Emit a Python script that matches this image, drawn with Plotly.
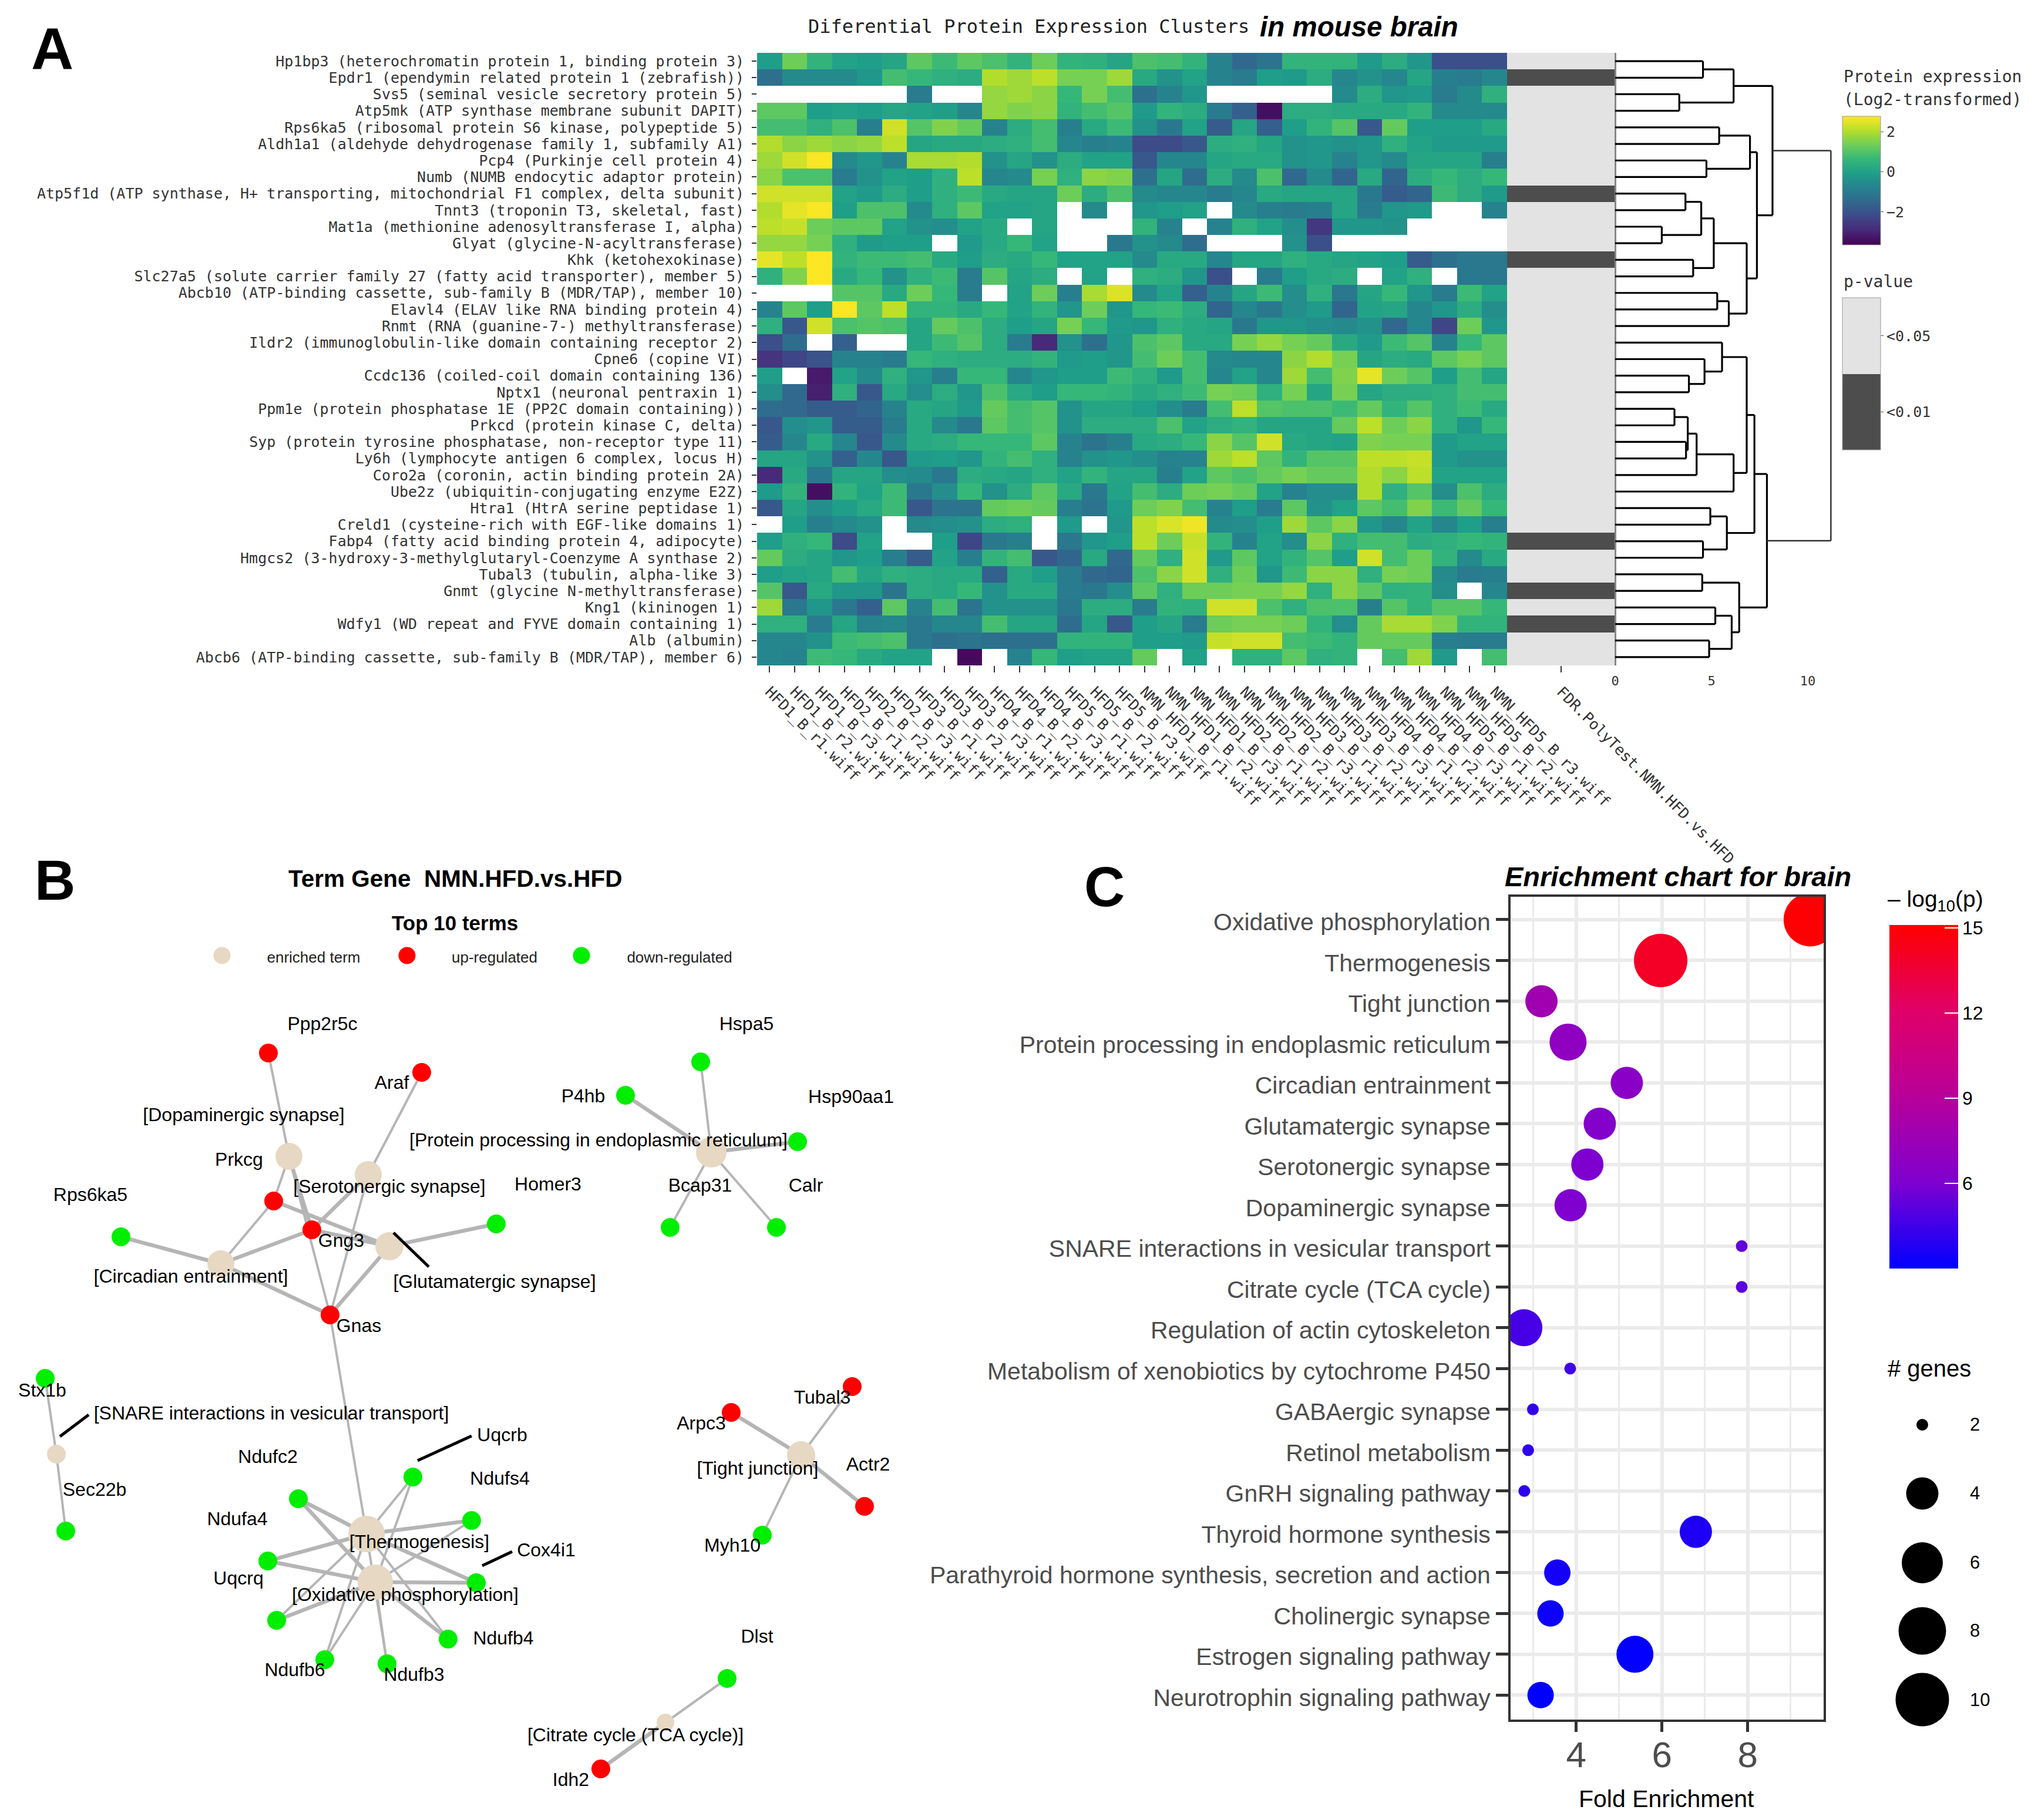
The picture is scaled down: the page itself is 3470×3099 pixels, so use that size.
import plotly.graph_objects as go

W, H = 3470, 3099
MONO = "DejaVu Sans Mono"
SANS = "Liberation Sans"
N = None

# ---------------- Panel A data ----------------
proteins = [
 "Hp1bp3 (heterochromatin protein 1, binding protein 3)","Epdr1 (ependymin related protein 1 (zebrafish))",
 "Svs5 (seminal vesicle secretory protein 5)","Atp5mk (ATP synthase membrane subunit DAPIT)",
 "Rps6ka5 (ribosomal protein S6 kinase, polypeptide 5)","Aldh1a1 (aldehyde dehydrogenase family 1, subfamily A1)",
 "Pcp4 (Purkinje cell protein 4)","Numb (NUMB endocytic adaptor protein)",
 "Atp5f1d (ATP synthase, H+ transporting, mitochondrial F1 complex, delta subunit)","Tnnt3 (troponin T3, skeletal, fast)",
 "Mat1a (methionine adenosyltransferase I, alpha)","Glyat (glycine-N-acyltransferase)","Khk (ketohexokinase)",
 "Slc27a5 (solute carrier family 27 (fatty acid transporter), member 5)","Abcb10 (ATP-binding cassette, sub-family B (MDR/TAP), member 10)",
 "Elavl4 (ELAV like RNA binding protein 4)","Rnmt (RNA (guanine-7-) methyltransferase)","Ildr2 (immunoglobulin-like domain containing receptor 2)",
 "Cpne6 (copine VI)","Ccdc136 (coiled-coil domain containing 136)","Nptx1 (neuronal pentraxin 1)",
 "Ppm1e (protein phosphatase 1E (PP2C domain containing))","Prkcd (protein kinase C, delta)","Syp (protein tyrosine phosphatase, non-receptor type 11)",
 "Ly6h (lymphocyte antigen 6 complex, locus H)","Coro2a (coronin, actin binding protein 2A)","Ube2z (ubiquitin-conjugating enzyme E2Z)",
 "Htra1 (HtrA serine peptidase 1)","Creld1 (cysteine-rich with EGF-like domains 1)","Fabp4 (fatty acid binding protein 4, adipocyte)",
 "Hmgcs2 (3-hydroxy-3-methylglutaryl-Coenzyme A synthase 2)","Tubal3 (tubulin, alpha-like 3)","Gnmt (glycine N-methyltransferase)",
 "Kng1 (kininogen 1)","Wdfy1 (WD repeat and FYVE domain containing 1)","Alb (albumin)","Abcb6 (ATP-binding cassette, sub-family B (MDR/TAP), member 6)"]

samples = ["HFD1_B_r1.wiff","HFD1_B_r2.wiff","HFD1_B_r3.wiff","HFD2_B_r1.wiff","HFD2_B_r2.wiff","HFD2_B_r3.wiff",
 "HFD3_B_r1.wiff","HFD3_B_r2.wiff","HFD3_B_r3.wiff","HFD4_B_r1.wiff","HFD4_B_r2.wiff","HFD4_B_r3.wiff",
 "HFD5_B_r1.wiff","HFD5_B_r2.wiff","HFD5_B_r3.wiff","NMN_HFD1_B_r1.wiff","NMN_HFD1_B_r2.wiff","NMN_HFD1_B_r3.wiff",
 "NMN_HFD2_B_r1.wiff","NMN_HFD2_B_r2.wiff","NMN_HFD2_B_r3.wiff","NMN_HFD3_B_r1.wiff","NMN_HFD3_B_r2.wiff","NMN_HFD3_B_r3.wiff",
 "NMN_HFD4_B_r1.wiff","NMN_HFD4_B_r2.wiff","NMN_HFD4_B_r3.wiff","NMN_HFD5_B_r1.wiff","NMN_HFD5_B_r2.wiff","NMN_HFD5_B_r3.wiff"]

expression_read = [
[-.2,1.2,.4,-.1,-.2,0,1.0,.6,1.0,.8,.4,1.2,.4,.3,0,.8,.7,.4,-.9,-1.6,-1.3,.4,.4,.4,-.3,.2,-.4,-2.2,-2.2,-2.2],
[-1.4,-.7,-.7,-.7,-.4,.7,.5,.3,.2,1.9,1.7,2.0,1.3,1.3,1.7,.1,-.5,-.1,-.9,-1.1,-.2,-.3,.2,-.8,-.5,-.8,0,-1.0,-1.1,-.8],
[N,N,N,N,N,N,-1.1,N,N,1.6,1.7,1.5,.5,1.3,.7,-1.4,-.9,-.4,N,N,N,N,N,-.7,.2,-.4,-.3,-1.1,-.7,.3],
[1.0,1.0,-.2,-.1,-.2,0,-.1,-.2,-.8,1.6,1.4,1.5,.4,.7,.9,-.3,.4,.2,-1.1,-1.8,-3.5,.2,.2,.1,.1,.1,.4,-.7,-.7,-.7],
[.7,.7,.3,.8,-1.0,2.2,.9,1.4,1.1,-.9,.2,.7,-1.0,.1,.6,-.5,-1.2,-.1,-1.9,0,-1.8,-.2,.4,.9,-2.0,1.1,-.2,-.2,-.2,.1],
[1.9,1.5,1.7,1.5,1.6,2.0,0,.1,.1,.2,.3,.7,-.8,-1.0,-.9,-2.3,-2.3,-2.0,.2,.3,0,-.5,-.4,-.5,-.4,.3,-.1,-.3,-.3,-.3],
[1.7,2.2,2.6,-.7,-.4,-.9,1.8,1.8,1.9,-.5,0,-.5,.2,-.1,-.1,-2.0,-.8,-.8,0,.1,.1,-.5,-.4,-.9,-.4,-.7,0,0,0,-1.0],
[1.5,.8,.8,-1.1,-.5,-.1,-.2,.3,2.0,-.8,-.7,1.3,.3,1.5,1.4,-1.4,0,-1.5,.2,-.7,.8,-1.6,-.7,-1.7,.1,-1.7,.2,.5,.2,.5],
[2.2,2.2,2.2,-.1,-.3,.2,-.2,.3,.6,.1,0,0,1.2,.2,.8,-.7,-.8,-.8,-1.1,-.8,.1,0,0,0,-1.2,-1.9,-1.7,.6,.2,-.3],
[1.9,2.4,2.6,-.2,.8,.8,-.7,.3,1.0,-.1,-.1,0,N,-.7,N,-.4,-.2,-.1,N,-.7,-1.0,-1.1,-1.0,0,-1.1,-.4,-.3,N,N,-.9],
[2.0,2.1,1.2,1.0,1.0,-.1,-.5,-.6,-.1,.1,N,0,N,N,N,.4,-.9,N,-.9,.3,-.1,-.6,-2.7,-.4,-.4,-.5,N,N,N,N],
[1.6,1.6,1.3,.3,-.3,-.2,-.2,N,-.3,.1,.5,-.1,N,N,-1.2,-.5,-.7,-1.5,N,N,N,-.5,-2.2,N,N,N,N,N,N,N],
[2.4,2.0,2.7,.4,.6,.6,.7,.1,-.2,.2,.1,.5,-.1,-.1,-.1,-.7,.1,.1,-.8,0,0,.3,.1,0,-.1,-.2,-1.9,-1.4,-1.2,-1.2],
[.3,1.4,2.75,.1,.5,-.5,.3,.6,-1.1,.9,0,.2,N,-.1,N,.3,.2,-.4,-2.2,N,-1.1,-.2,.1,.2,N,-.1,.3,N,-1.2,-1.2],
[N,N,N,.9,.9,.1,1.2,.5,-1.1,N,-.1,1.2,-1.0,1.8,2.3,-.7,-.1,-1.8,-.9,0,.6,-.6,.3,-1.2,0,.5,-.4,-1.1,.6,-.1],
[-.9,1.0,-.2,2.6,1.0,2.0,.4,.4,.1,.5,-.1,.4,-.4,1.2,-.4,.5,.6,.2,-1.7,-.8,-1.2,-.6,-.3,-1.7,-.1,0,-.8,-.4,.2,-.6],
[.3,-2.0,2.2,.8,.9,.8,0,1.1,.8,.2,-.2,0,1.3,.5,-.3,-.4,.3,.1,0,-1.2,-.4,-.4,-.6,-.7,-.5,-1.6,-.8,-2.4,1.2,-.4],
[-2.2,-1.5,N,-1.8,N,N,0,.6,.9,.2,-1.1,-3.0,-.5,-1.4,-.4,.8,1.0,.1,.1,1.3,1.6,1.3,1.1,.1,-.3,.6,.9,-.9,.5,1.0],
[-2.8,-2.4,-2.1,-.9,-.9,-1.1,.5,.3,.2,.2,.2,.4,-.3,-.2,-.4,.7,1.2,.7,-.7,-.8,-.8,1.5,1.9,1.3,0,.2,.1,1.0,1.3,1.0],
[-.2,N,-3.3,-.1,-.7,.3,-.4,-1.0,.5,.5,-.8,-.4,-.2,-.2,.6,.3,-.3,.7,-.8,-.1,-.8,1.7,.7,1.4,2.4,1.2,.9,-.2,.7,0],
[-.6,-1.6,-3.2,.3,-2.0,.1,-.6,.2,-.4,.8,.1,-.2,.5,.5,.4,.1,.3,.6,1.3,1.2,.3,1.3,0,1.3,0,.2,.2,.3,.7,.7],
[-1.5,-1.6,-1.9,-1.9,-1.7,-.9,.1,0,-.3,1.1,.7,.9,-.5,0,0,-.2,-.6,-1.1,.7,2.0,.9,.8,.8,.6,1.1,.4,.9,.3,.6,.1],
[-2.0,-.6,-.4,-1.9,-1.9,-1.1,.1,-.7,-1.2,1.0,.7,.9,-.5,.2,.2,.2,.8,-.1,.2,.4,0,0,0,1.1,2.0,1.2,1.5,.3,-.4,.5],
[-1.9,-.8,.1,-.8,-2.0,-.7,.1,.2,.5,.5,.5,1.0,-.9,-1.3,-1.0,.1,.2,.5,1.5,.9,2.2,.1,0,-.1,1.4,1.3,1.3,-.3,-.1,-.1],
[0,0,-.5,-1.8,-.8,-2.0,-.3,-.2,-.4,.4,.7,.3,-.9,-.5,-.4,-.6,-.9,-.9,1.7,2.0,1.0,.4,.9,.9,2.0,2.0,2.1,-.3,-.5,-.5],
[-3.0,.1,-1.2,0,0,-.6,-.7,-1.2,.2,.1,0,.3,-.1,.4,0,0,-1.0,-.1,1.0,.8,1.1,1.3,1.1,1.1,1.9,1.5,2.0,-.1,-.1,-.1],
[-.3,.4,-3.5,.4,-.1,.6,-1.2,-.6,.5,-.5,.2,1.0,.1,-1.2,-.1,.7,.2,1.2,1.3,1.1,-.1,-.9,-.6,-.6,1.9,.3,.9,-.6,.8,.2],
[-2.0,0,-.6,-.2,.1,.6,-2.0,-1.3,-1.3,1.1,1.2,1.1,-1.0,-1.3,-.3,1.2,1.4,.7,-.9,-.2,-1.1,1.0,-.5,-.1,1.0,.7,1.4,.6,1.1,.5],
[N,-.2,-1.0,-.7,-.5,N,-.7,-.6,-.5,.2,.3,N,-.3,N,-.4,2.0,2.3,2.5,-.7,-.6,-.2,1.7,1.0,1.5,-.4,-.8,-.1,-.8,-.2,-1.0],
[-.2,.3,.5,-2.3,-.1,N,N,-.2,-2.4,-1.2,-1.0,N,-1.2,-.4,-.2,2.0,1.2,2.1,.4,-.9,-.1,-.6,1.5,.3,.7,.7,.2,.3,.5,.4],
[1.1,.2,0,-.4,-.2,-1.0,-1.9,-.1,-1.0,.4,.7,-2.0,-1.7,.1,-1.6,1.1,.3,2.2,-.3,1.0,-.1,.4,.9,-.2,2.2,.7,1.2,.4,-.7,.1],
[-.2,-.1,0,.7,0,.3,.2,.1,.1,-1.8,.1,-.2,-1.1,-1.6,-1.7,.8,1.5,2.2,.3,1.2,-.4,.6,1.5,1.5,.3,1.3,1.2,-.7,-1.1,-1.0],
[.9,-2.0,.1,-.4,-.4,-1.3,.2,.1,.5,-.5,.1,.1,-1.1,-1.2,-.6,1.0,.3,1.2,1.2,1.3,1.3,1.6,.3,1.5,1.0,.3,.4,-.6,N,-.8],
[1.7,-1.2,-.4,-1.2,-1.8,1.0,-.9,.7,-1.3,-.5,-.5,-.5,-1.2,.2,.2,-1.1,.4,.3,2.2,2.2,.8,.3,.8,.8,-1.0,.9,.4,.9,.9,.5],
[.3,.3,-1.1,0,-.9,-.8,-1.2,-.8,-.8,.7,0,0,-1.5,0,-2.0,-.2,0,-1.1,1.2,1.3,1.3,1.2,.4,-.6,1.1,1.8,1.8,1.4,.4,.4],
[-.8,-.8,-.5,.6,.7,.8,-1.2,-1.4,-1.3,-1.4,-1.4,-1.4,.4,.4,.4,-.2,-.2,-.3,2.1,2.2,2.2,.7,.6,.4,1.1,1.1,1.1,-1.0,-1.1,-1.1],
[-.8,-.9,.6,.5,.1,-.1,-.1,N,-3.6,N,-.9,.5,-.2,-.1,-.1,1.1,N,-.1,N,.3,.3,1.0,.3,.4,N,.7,1.7,-.3,N,.7],
]
# my colour readings ran slightly dark against the reference's colour bar
read_correction = 0.12
expression = [[None if v is None else v+read_correction for v in row] for row in expression_read]
pvalue_class = [1,0,1,1,1,1,1,1,0,1,1,1,0,1,1,1,1,1,1,1,1,1,1,1,1,1,1,1,1,0,1,1,0,1,0,1,1]
pvalue_column = ["FDR.PolyTest.NMN.HFD.vs.HFD"]

# dendrogram: (child a, child b, height); leaf = row number, node 37+i = i-th merge
merges = [
 (0,1,4.56),(2,3,3.33),(37,38,6.15),(4,5,5.4),(6,7,4.74),(40,41,7.0),(8,9,3.65),(10,11,2.42),(43,44,4.47),
 (12,13,4.05),(45,46,5.12),(14,15,5.3),(48,16,5.9),(47,49,6.83),(42,50,7.36),(39,51,8.17),
 (19,20,3.83),(18,53,4.64),(17,54,5.55),(21,22,3.08),(23,24,3.68),(56,57,3.77),(58,25,4.23),(59,26,6.15),
 (55,60,6.83),(27,28,4.94),(29,30,4.56),(62,63,5.8),(61,64,7.23),(31,32,4.52),(33,34,5.2),(35,36,4.88),
 (67,68,6.05),(66,69,6.44),(65,70,7.88),(52,71,11.2)]

# ---------------- Panel B data ----------------
term_names = ["[Dopaminergic synapse]","[Serotonergic synapse]","[Glutamatergic synapse]","[Circadian entrainment]",
 "[Protein processing in endoplasmic reticulum]","[SNARE interactions in vesicular transport]","[Thermogenesis]",
 "[Oxidative phosphorylation]","[Tight junction]","[Citrate cycle (TCA cycle)]"]
term_x = [492,627,663,376,1211,96,624,639,1364,1133]
term_y = [1969,2000,2122,2152,1962,2476,2612,2694,2478,2933]
term_label_x = [415,663,842,325,1019,462,714,690,1290,1082]
term_label_y = [1901,2023,2185,2176,1944,2409,2628,2718,2503,2957]
term_sizes = [46,46,48,46,52,32,62,60,48,30]
up_names = ["Ppp2r5c","Araf","Prkcg","Gng3","Gnas","Tubal3","Arpc3","Actr2","Idh2"]
up_x = [457,718,466,531,562,1451,1245,1472,1023]
up_y = [1793,1826,2045,2094,2239,2361,2405,2565,3012]
up_label_x = [549,667,407,581,611,1400,1194,1478,972]
up_label_y = [1746,1846,1977,2115,2260,2382,2426,2496,3033]
down_names = ["Rps6ka5","Homer3","Hspa5","P4hb","Hsp90aa1","Bcap31","Calr","Stx1b","Sec22b","Uqcrb","Ndufc2","Ndufs4","Ndufa4",
 "Cox4i1","Uqcrq","Ndufb4","Ndufb6","Ndufb3","Myh10","Dlst"]
down_x = [206,845,1193,1065,1358,1141,1322,77,112,703,508,803,456,811,471,763,553,659,1298,1238]
down_y = [2106,2084,1808,1865,1944,2090,2090,2347,2607,2515,2552,2589,2658,2695,2759,2791,2826,2833,2614,2858]
down_label_x = [154,933,1271,993,1449,1192,1372,72,161,855,456,851,404,930,406,857,502,705,1247,1289]
down_label_y = [2037,2019,1746,1869,1870,2021,2021,2370,2539,2446,2483,2520,2589,2642,2690,2792,2846,2854,2634,2789]

edges_thick = {
 "[Dopaminergic synapse]":["Gng3"],
 "[Serotonergic synapse]":["Gng3"],
 "[Glutamatergic synapse]":["Prkcg","Gng3","Homer3","Gnas"],
 "[Circadian entrainment]":["Rps6ka5","Gng3","Gnas"],
 "[Protein processing in endoplasmic reticulum]":["P4hb","Hsp90aa1"],
 "[Thermogenesis]":["Ndufc2","Ndufs4","Ndufa4","Cox4i1"],
 "[Oxidative phosphorylation]":["Ndufc2","Ndufa4","Cox4i1","Uqcrq","Ndufb4"],
 "[Tight junction]":["Arpc3","Actr2"],
 "[Citrate cycle (TCA cycle)]":["Idh2"],
}
edges_thin = {
 "[Dopaminergic synapse]":["Ppp2r5c","Prkcg","Gnas"],
 "[Serotonergic synapse]":["Araf","Gnas"],
 "[Circadian entrainment]":["Prkcg"],
 "[Protein processing in endoplasmic reticulum]":["Hspa5","Bcap31","Calr"],
 "[SNARE interactions in vesicular transport]":["Stx1b","Sec22b"],
 "[Thermogenesis]":["Gnas","Uqcrb","Uqcrq","Ndufb4","Ndufb6","Ndufb3"],
 "[Oxidative phosphorylation]":["Uqcrb","Ndufs4","Ndufb6","Ndufb3"],
 "[Tight junction]":["Tubal3","Myh10"],
 "[Citrate cycle (TCA cycle)]":["Dlst"],
}
callouts = [((670,2099),(730,2157)),((102,2446),(151,2409)),((711,2487),(803,2445)),((821,2666),(872,2642))]

# ---------------- Panel C data ----------------
pathways = ["Oxidative phosphorylation","Thermogenesis","Tight junction","Protein processing in endoplasmic reticulum",
 "Circadian entrainment","Glutamatergic synapse","Serotonergic synapse","Dopaminergic synapse",
 "SNARE interactions in vesicular transport","Citrate cycle (TCA cycle)","Regulation of actin cytoskeleton",
 "Metabolism of xenobiotics by cytochrome P450","GABAergic synapse","Retinol metabolism","GnRH signaling pathway",
 "Thyroid hormone synthesis","Parathyroid hormone synthesis, secretion and action","Cholinergic synapse",
 "Estrogen signaling pathway","Neurotrophin signaling pathway"]
fold_enrichment = [9.46,5.97,3.19,3.81,5.18,4.55,4.26,3.87,7.86,7.86,2.78,3.86,2.99,2.88,2.79,6.79,3.56,3.40,5.37,3.17]
neg_log_p = [15,14.0,7.8,6.9,6.6,6.3,6.0,6.1,5.3,5.2,4.7,4.5,4.2,4.1,4.0,3.7,3.5,3.3,3.1,3.0]
n_genes = [10,10,4,5,4,4,4,4,2,2,5,2,2,2,2,4,3,3,5,3]
size_legend_genes = [2,4,6,8,10]

# ---------------- helpers / styles ----------------
def xd(a,b): return [a/W, b/W]
def yd(top,bottom): return [1-bottom/H, 1-top/H]
gene_px = {2:20,3:45,4:55,5:63,6:70,8:81,10:91}
TERM_C, UP_C, DOWN_C = "#e6d8c3", "#ff0000", "#00ee00"
ENRICH_SCALE = [[0,"#0000ff"],[.25,"#7f00d0"],[.5,"#b8009a"],[.75,"#e00068"],[1,"#ff0000"]]

H_L,H_R,H_T,H_B = 1289,2566,90,1133
P_R, D_R = 2750, 3130
C_L,C_R,C_T,C_B = 2572,3105,1527,2928

fig = go.Figure()
rows_idx = list(range(len(proteins)))

fig.add_trace(go.Heatmap(z=expression, x=samples, y=proteins, colorscale="Viridis", zmin=-3.64, zmax=2.76,
    xaxis="x", yaxis="y", hoverongaps=False,
    colorbar=dict(x=3137/W, xanchor="left", y=1-198/H, yanchor="top", lenmode="pixels", len=219,
        thicknessmode="pixels", thickness=65, xpad=0, ypad=0, outlinecolor="#999999", outlinewidth=1,
        tickvals=[-2,0,2], ticks="outside", ticklen=5, tickcolor="#555555",
        tickfont=dict(family=MONO,size=25,color="#333333"))))

fig.add_trace(go.Heatmap(z=[[v] for v in pvalue_class], x=pvalue_column, y=proteins,
    colorscale=[[0,"#4d4d4d"],[.5,"#4d4d4d"],[.5,"#e3e3e3"],[1,"#e3e3e3"]], zmin=0, zmax=1,
    xaxis="x2", yaxis="y2",
    colorbar=dict(x=3137/W, xanchor="left", y=1-507/H, yanchor="top", lenmode="pixels", len=259,
        thicknessmode="pixels", thickness=65, xpad=0, ypad=0, outlinecolor="#999999", outlinewidth=1,
        tickvals=[.25,.75], ticktext=["<0.01","<0.05"], ticks="outside", ticklen=5, tickcolor="#555555",
        tickfont=dict(family=MONO,size=25,color="#333333"))))

# dendrogram
pos = {i:float(i) for i in rows_idx}
hgt = {i:0.0 for i in rows_idx}
dx, dy, rx, ry = [], [], [], []
for k,(a,b,h) in enumerate(merges):
    nid = len(proteins)+k
    lx = rx if k==len(merges)-1 else dx
    ly = ry if k==len(merges)-1 else dy
    lx += [hgt[a],h,N,h,h,N,hgt[b],h,N]
    ly += [pos[a],pos[a],N,pos[a],pos[b],N,pos[b],pos[b],N]
    pos[nid] = (pos[a]+pos[b])/2
    hgt[nid] = h
fig.add_trace(go.Scatter(x=dx,y=dy,mode="lines",line=dict(color="#000000",width=3.2),xaxis="x3",yaxis="y3",hoverinfo="skip",showlegend=False))
fig.add_trace(go.Scatter(x=rx,y=ry,mode="lines",line=dict(color="#333333",width=2.5),xaxis="x3",yaxis="y3",hoverinfo="skip",showlegend=False))

# network
nx = dict(zip(term_names+up_names+down_names, term_x+up_x+down_x))
ny = dict(zip(term_names+up_names+down_names, term_y+up_y+down_y))
def segs(ed):
    xs, ys = [], []
    for t,gs in ed.items():
        for g in gs:
            xs += [nx[t],nx[g],N]; ys += [ny[t],ny[g],N]
    return xs, ys
for ed,wd in ((edges_thin,4),(edges_thick,6.5)):
    xs,ys = segs(ed)
    fig.add_trace(go.Scatter(x=xs,y=ys,mode="lines",line=dict(color="#b5b5b5",width=wd),xaxis="x4",yaxis="y4",hoverinfo="skip",showlegend=False))
for xs,ys,sz,c in ((term_x,term_y,term_sizes,TERM_C),(up_x,up_y,32,UP_C),(down_x,down_y,32,DOWN_C)):
    fig.add_trace(go.Scatter(x=xs,y=ys,mode="markers",marker=dict(color=c,size=sz,opacity=1,line=dict(width=0)),xaxis="x4",yaxis="y4",showlegend=False))
for (p,q) in callouts:
    fig.add_trace(go.Scatter(x=[p[0],q[0]],y=[p[1],q[1]],mode="lines",line=dict(color="#000000",width=5),xaxis="x4",yaxis="y4",hoverinfo="skip",showlegend=False))
fig.add_trace(go.Scatter(x=term_label_x+up_label_x+down_label_x,y=term_label_y+up_label_y+down_label_y,
    text=term_names+up_names+down_names,mode="text",textposition="middle center",
    textfont=dict(family=SANS,size=32,color="#000000"),xaxis="x4",yaxis="y4",hoverinfo="skip",showlegend=False))
# network legend
fig.add_trace(go.Scatter(x=[378,693,990],y=[1627,1627,1627],mode="markers",marker=dict(color=[TERM_C,UP_C,DOWN_C],size=29,opacity=1),xaxis="x4",yaxis="y4",showlegend=False))
fig.add_trace(go.Scatter(x=[534,842,1157],y=[1632,1632,1632],text=["enriched term","up-regulated","down-regulated"],mode="text",
    textfont=dict(family=SANS,size=26,color="#222222"),xaxis="x4",yaxis="y4",hoverinfo="skip",showlegend=False))

# enrichment (first trace only carries the left half of the colour bar's white ticks)
fig.add_trace(go.Scatter(x=fold_enrichment,y=pathways,mode="markers",xaxis="x5",yaxis="y5",showlegend=False,hoverinfo="skip",
    marker=dict(size=1,opacity=1,color=neg_log_p,cmin=3,cmax=15.1,colorscale=ENRICH_SCALE,line=dict(width=0),
        colorbar=dict(x=3217/W,xanchor="left",y=1-1575/H,yanchor="top",lenmode="pixels",len=585,
            thicknessmode="pixels",thickness=23,xpad=0,ypad=0,outlinewidth=0,
            tickvals=[6,9,12,15],ticks="inside",ticklen=23,tickcolor="#ffffff",tickwidth=2,showticklabels=False))))
fig.add_trace(go.Scatter(x=fold_enrichment,y=pathways,mode="markers",xaxis="x5",yaxis="y5",showlegend=False,
    marker=dict(size=[gene_px[g] for g in n_genes],sizemode="diameter",opacity=1,color=neg_log_p,cmin=3,cmax=15.1,
        colorscale=ENRICH_SCALE,line=dict(width=0),
        colorbar=dict(x=3217/W,xanchor="left",y=1-1575/H,yanchor="top",lenmode="pixels",len=585,
            thicknessmode="pixels",thickness=117,xpad=0,ypad=0,outlinewidth=0,
            tickvals=[6,9,12,15],ticks="inside",ticklen=23,tickcolor="#ffffff",tickwidth=2,
            tickfont=dict(family=SANS,size=32,color="#000000")))))
# size legend
fig.add_trace(go.Scatter(x=[3273]*5,y=[2426,2543,2661,2777,2894],mode="markers",
    marker=dict(color="#000000",size=[gene_px[g] for g in size_legend_genes],opacity=1,line=dict(width=0)),xaxis="x4",yaxis="y4",showlegend=False))
fig.add_trace(go.Scatter(x=[3354]*5,y=[2428,2545,2663,2779,2897],text=[str(g) for g in size_legend_genes],mode="text",textposition="middle right",
    textfont=dict(family=SANS,size=31,color="#000000"),xaxis="x4",yaxis="y4",hoverinfo="skip",showlegend=False))

# text
def note(t,x,y,size,fam=SANS,color="#000000",anchor="center",bold=False,italic=False):
    if bold: t=f"<b>{t}</b>"
    if italic: t=f"<i>{t}</i>"
    return dict(text=t,x=x,y=y,xref="x4",yref="y4",showarrow=False,xanchor=anchor,yanchor="middle",
                font=dict(family=fam,size=size,color=color))
annotations = [
 note("A",89,83,100,bold=True), note("B",93,1498,96,bold=True), note("C",1880,1509,96,bold=True),
 note("Diferential Protein Expression Clusters",1374,45,32,fam=MONO,color="#222222",anchor="left"),
 note("in mouse brain",2143,45,47.5,bold=True,italic=True,anchor="left"),
 note("Protein expression",3137,130,28,fam=MONO,color="#333333",anchor="left"),
 note("(Log2-transformed)",3137,169,28,fam=MONO,color="#333333",anchor="left"),
 note("p-value",3137,479,28,fam=MONO,color="#333333",anchor="left"),
 note("Term Gene  NMN.HFD.vs.HFD",775,1496,40.5,bold=True),
 note("Top 10 terms",774,1571,35,bold=True),
 note("Enrichment chart for brain",2560,1492,47,bold=True,italic=True,anchor="left"),
 note("\u2013 log<sub>10</sub>(p)",3212,1533,39,anchor="left"),
 note("# genes",3212,2330,40,anchor="left"),
 note("Fold Enrichment",2837,3063,41),
]

layout = dict(
 template="none",
 width=W,height=H,autosize=False,margin=dict(l=0,r=0,t=0,b=0,pad=0),
 paper_bgcolor="#ffffff",plot_bgcolor="rgba(0,0,0,0)",showlegend=False,annotations=annotations,
 xaxis=dict(domain=xd(H_L,H_R),anchor="y",automargin=False,tickangle=45,tickfont=dict(family=MONO,size=25.5,color="#333333"),
    ticks="outside",ticklen=11,tickwidth=2,tickcolor="#333333",showgrid=False,zeroline=False,showline=False,tickmode="linear",dtick=1,ticklabelstandoff=8),
 yaxis=dict(domain=yd(H_T,H_B),anchor="x",automargin=False,autorange="reversed",tickfont=dict(family=MONO,size=25,color="#333333"),
    ticks="outside",ticklen=8,tickwidth=2,tickcolor="#333333",showgrid=False,zeroline=False,tickmode="linear",dtick=1,ticklabelstandoff=8),
 xaxis2=dict(domain=xd(H_R,P_R),anchor="y2",automargin=False,tickangle=45,tickfont=dict(family=MONO,size=25.5,color="#333333"),
    ticks="outside",ticklen=11,tickwidth=2,tickcolor="#333333",showgrid=False,zeroline=False,ticklabelstandoff=8),
 yaxis2=dict(domain=yd(H_T,H_B),anchor="x2",automargin=False,autorange="reversed",showticklabels=False,ticks="",showgrid=False,zeroline=False),
 xaxis3=dict(domain=xd(P_R,D_R),anchor="y3",automargin=False,range=[0,(D_R-P_R)/32.8],tickvals=[0,5,10],ticks="",
    tickfont=dict(family=MONO,size=22,color="#333333"),showgrid=False,zeroline=True,zerolinecolor="#888888",zerolinewidth=3,showline=False,ticklabelstandoff=11),
 yaxis3=dict(domain=yd(H_T,H_B),anchor="x3",automargin=False,range=[len(proteins)-.5,-.5],visible=False),
 xaxis4=dict(domain=[0,1],anchor="y4",automargin=False,range=[0,W],visible=False,fixedrange=True),
 yaxis4=dict(domain=[0,1],anchor="x4",automargin=False,range=[H,0],visible=False,fixedrange=True),
 xaxis5=dict(domain=xd(C_L,C_R),anchor="y5",automargin=False,range=[2.47,9.77],tickvals=[4,6,8],ticks="outside",ticklen=17,tickwidth=5,tickcolor="#333333",
    tickfont=dict(family=SANS,size=62,color="#4d4d4d"),showgrid=True,gridcolor="#ebebeb",gridwidth=6,zeroline=False,
    minor=dict(tick0=3,dtick=2,showgrid=True,gridcolor="#ebebeb",gridwidth=3,ticks=""),ticklabelstandoff=-14,
    showline=True,mirror=True,linecolor="#333333",linewidth=4),
 yaxis5=dict(domain=yd(C_T,C_B),anchor="x5",automargin=False,range=[len(pathways)-1+.6,-.56],type="category",categoryorder="array",categoryarray=pathways,
    ticks="outside",ticklen=21,tickwidth=5,tickcolor="#333333",tickfont=dict(family=SANS,size=41,color="#4d4d4d"),ticklabelstandoff=1,ticklabelshift=-4,
    showgrid=True,gridcolor="#ebebeb",gridwidth=6,zeroline=False,showline=True,mirror=True,linecolor="#333333",linewidth=4),
)
fig.update_layout(**layout)
fig.write_html("out.html",config=dict(displayModeBar=False),post_script="document.body.style.margin='0';document.body.style.overflow='hidden';")
